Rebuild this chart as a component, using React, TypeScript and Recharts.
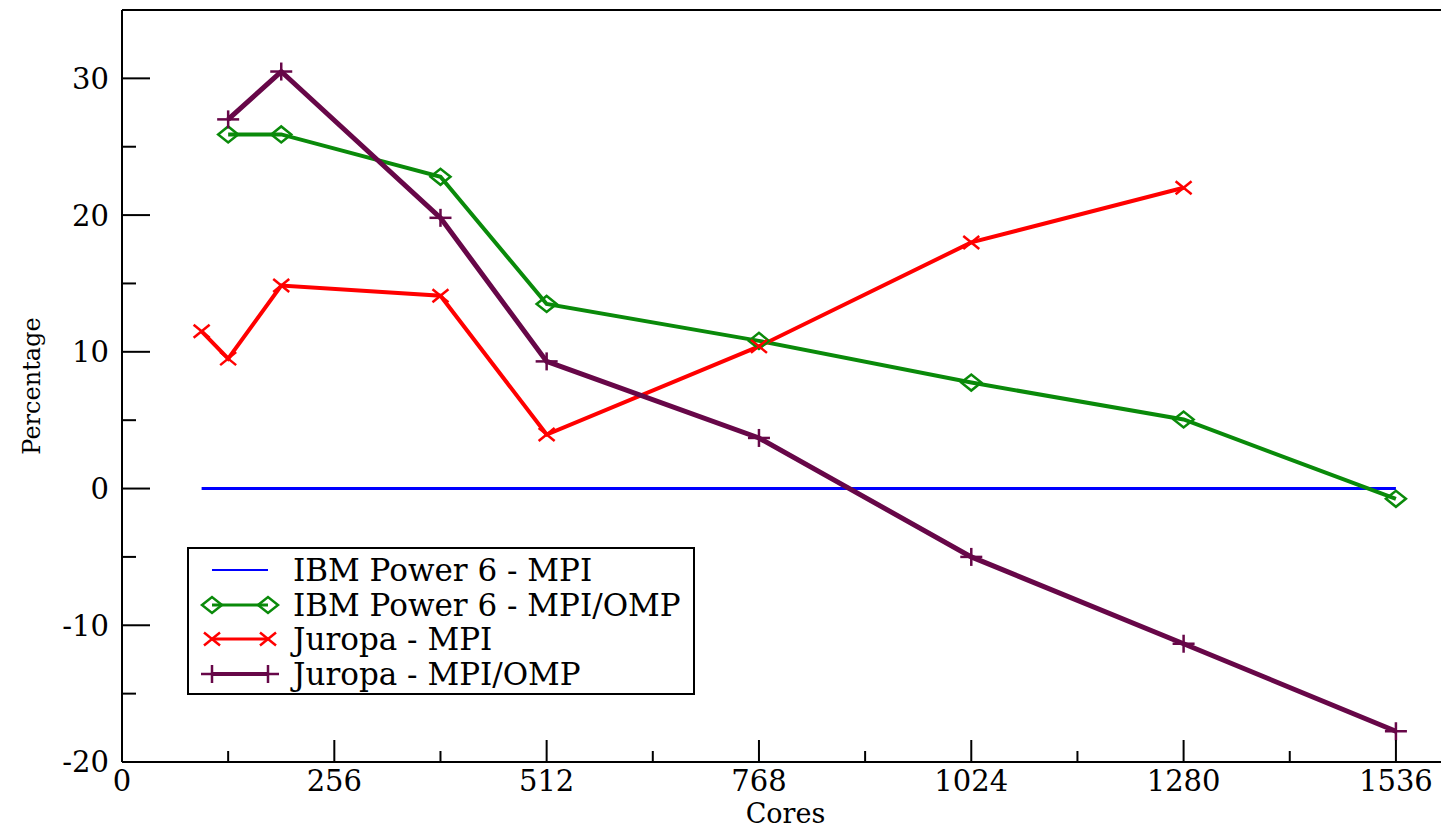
import { LineChart, Line, XAxis, YAxis, Legend } from "recharts";

const FONT = '"DejaVu Serif", "Liberation Serif", serif';

// cores on the x axis
const CORES = [96, 128, 192, 384, 512, 768, 1024, 1280, 1536];

// percentage values per series (null = not measured)
const IBM_MPI = [0, 0, 0, 0, 0, 0, 0, 0, 0];
const IBM_HYBRID = [null, 25.9, 25.9, 22.8, 13.5, 10.8, 7.75, 5.05, -0.75];
const JUROPA_MPI = [11.5, 9.5, 14.85, 14.1, 3.95, 10.4, 18.0, 22.0, null];
const JUROPA_HYBRID = [null, 27.0, 30.5, 19.8, 9.3, 3.7, -5.0, -11.35, -17.75];

const X_TICKS = [0, 128, 256, 384, 512, 640, 768, 896, 1024, 1152, 1280, 1408, 1536];
const Y_TICKS = [-20, -15, -10, -5, 0, 5, 10, 15, 20, 25, 30];

const SERIES = [
  { name: "IBM Power 6 - MPI", values: IBM_MPI, color: "#0000ff", width: 3, marker: "none" },
  { name: "IBM Power 6 - MPI/OMP", values: IBM_HYBRID, color: "#0a8a0a", width: 4, marker: "diamond" },
  { name: "Juropa - MPI", values: JUROPA_MPI, color: "#ff0000", width: 4, marker: "cross" },
  { name: "Juropa - MPI/OMP", values: JUROPA_HYBRID, color: "#670748", width: 5, marker: "plus" },
];

const toPoints = (values: (number | null)[]) =>
  CORES.map((c, i) => ({ cores: c, value: values[i] })).filter((p) => p.value !== null);

function Marker({ kind, cx, cy, color }: { kind: string; cx: number; cy: number; color: string }) {
  if (kind === "diamond") {
    return (
      <path
        d={`M${cx - 10},${cy} L${cx},${cy - 8} L${cx + 10},${cy} L${cx},${cy + 8} Z`}
        fill="none"
        stroke={color}
        strokeWidth={2.5}
      />
    );
  }
  if (kind === "cross") {
    return (
      <g stroke={color} strokeWidth={2.5}>
        <line x1={cx - 8} y1={cy - 6.5} x2={cx + 8} y2={cy + 6.5} />
        <line x1={cx - 8} y1={cy + 6.5} x2={cx + 8} y2={cy - 6.5} />
      </g>
    );
  }
  if (kind === "plus") {
    return (
      <g stroke={color} strokeWidth={2.5}>
        <line x1={cx - 11} y1={cy} x2={cx + 11} y2={cy} />
        <line x1={cx} y1={cy - 9} x2={cx} y2={cy + 9} />
      </g>
    );
  }
  return <g />;
}

const tickText = { fontFamily: FONT, fontSize: 29, fill: "#000" };

const bottomTick = (p: any) => {
  const major = p.payload.value % 256 === 0;
  return (
    <g>
      <line x1={p.x} x2={p.x} y1={p.y} y2={p.y - (major ? 22 : 11)} stroke="#000" strokeWidth={2} />
      {major && (
        <text x={p.x} y={p.y + 29} textAnchor="middle" {...tickText}>
          {p.payload.value}
        </text>
      )}
    </g>
  );
};

const topTick = (p: any) => {
  const major = p.payload.value % 256 === 0;
  return <line x1={p.x} x2={p.x} y1={p.y} y2={p.y + (major ? 22 : 11)} stroke="#000" strokeWidth={2} />;
};

const leftTick = (p: any) => {
  const major = p.payload.value % 10 === 0;
  return (
    <g>
      <line x1={p.x} x2={p.x + (major ? 28 : 14)} y1={p.y} y2={p.y} stroke="#000" strokeWidth={2} />
      {major && (
        <text x={p.x - 13} y={p.y} dy="0.36em" textAnchor="end" {...tickText}>
          {p.payload.value}
        </text>
      )}
    </g>
  );
};

const rightTick = (p: any) => {
  const major = p.payload.value % 10 === 0;
  return <line x1={p.x} x2={p.x - (major ? 28 : 14)} y1={p.y} y2={p.y} stroke="#000" strokeWidth={2} />;
};

function LegendBox() {
  return (
    <div
      style={{
        boxSizing: "border-box",
        width: 508,
        height: 148,
        border: "2px solid #000",
        background: "#fff",
        paddingTop: 4,
        fontFamily: FONT,
        fontSize: 31,
        lineHeight: "34px",
        color: "#000",
      }}
    >
      {SERIES.map((s) => (
        <div key={s.name} style={{ display: "flex", alignItems: "center", height: 34.5, whiteSpace: "nowrap" }}>
          <svg width={104} height={30} style={{ flex: "none" }}>
            <line x1={23} x2={79} y1={15} y2={15} stroke={s.color} strokeWidth={s.width - 1} />
            <Marker kind={s.marker} cx={23} cy={15} color={s.color} />
            <Marker kind={s.marker} cx={79} cy={15} color={s.color} />
          </svg>
          <span>{s.name}</span>
        </div>
      ))}
    </div>
  );
}

export default function App() {
  return (
    <div
      style={{
        position: "absolute",
        left: 0,
        top: 0,
        width: 1441,
        height: 829,
        overflow: "hidden",
        background: "#fff",
      }}
    >
      <LineChart width={1450} height={829} margin={{ top: 10, right: 1, bottom: 0, left: 0 }}>
        <XAxis
          xAxisId="x"
          type="number"
          dataKey="cores"
          domain={[0, 1600]}
          ticks={X_TICKS}
          interval={0}
          height={67}
          tickSize={0}
          tickMargin={0}
          tickLine={false}
          axisLine={{ stroke: "#000", strokeWidth: 2 }}
          tick={bottomTick}
          label={{ value: "Cores", position: "insideBottom", offset: 6, fill: "#000", fontSize: 27, fontFamily: FONT }}
        />
        <XAxis
          xAxisId="top"
          orientation="top"
          mirror
          type="number"
          domain={[0, 1600]}
          ticks={X_TICKS}
          interval={0}
          tickSize={0}
          tickMargin={0}
          tickLine={false}
          axisLine={{ stroke: "#000", strokeWidth: 2 }}
          tick={topTick}
        />
        <YAxis
          yAxisId="y"
          type="number"
          domain={[-20, 35]}
          ticks={Y_TICKS}
          interval={0}
          width={122}
          tickSize={0}
          tickMargin={0}
          tickLine={false}
          axisLine={{ stroke: "#000", strokeWidth: 2 }}
          tick={leftTick}
          label={{
            value: "Percentage",
            angle: -90,
            position: "insideLeft",
            offset: 31,
            fill: "#000",
            fontSize: 24,
            fontFamily: FONT,
            style: { textAnchor: "middle" },
          }}
        />
        <YAxis
          yAxisId="right"
          orientation="right"
          mirror
          type="number"
          domain={[-20, 35]}
          ticks={Y_TICKS}
          interval={0}
          tickSize={0}
          tickMargin={0}
          tickLine={false}
          axisLine={{ stroke: "#000", strokeWidth: 2 }}
          tick={rightTick}
        />
        {SERIES.map((s) => (
          <Line
            key={s.name}
            xAxisId="x"
            yAxisId="y"
            data={toPoints(s.values)}
            dataKey="value"
            name={s.name}
            stroke={s.color}
            strokeWidth={s.width}
            isAnimationActive={false}
            dot={(p: any) => <Marker key={`${s.name}-${p.index}`} kind={s.marker} cx={p.cx} cy={p.cy} color={s.color} />}
            activeDot={false}
          />
        ))}
        <Legend
          layout="vertical"
          align="center"
          verticalAlign="middle"
          wrapperStyle={{ left: 187, top: 547, width: 508, height: 148 }}
          content={() => <LegendBox />}
        />
      </LineChart>
    </div>
  );
}
